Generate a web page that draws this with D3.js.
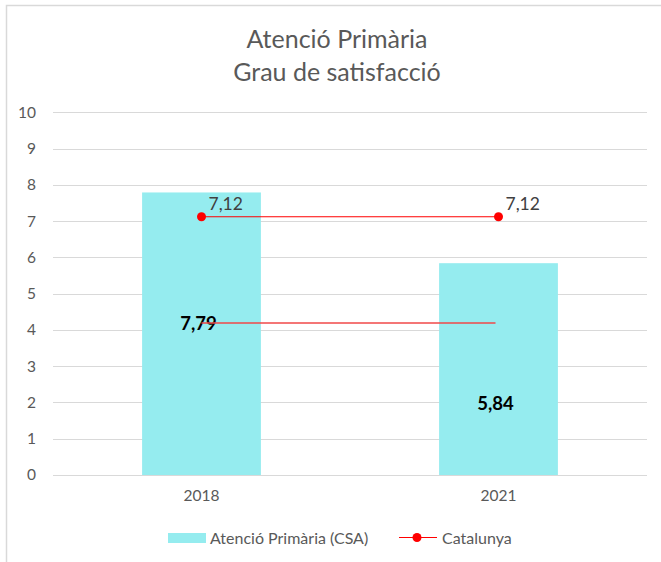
<!DOCTYPE html>
<html><head><meta charset="utf-8">
<script src="https://cdn.jsdelivr.net/npm/d3@7"></script>
<style>body{margin:0;background:#fff;}svg{display:block;font-family:Lato,"Open Sans",sans-serif;}</style>
</head><body><div id="chart"></div>
<script>
const categories = ["2018", "2021"];
const barValues = [7.79, 5.84];
const barLabels = ["7,79", "5,84"];
const barLabelPos = [4.18, 1.98];
const lineValues = [7.12, 7.12];
const lineLabels = ["7,12", "7,12"];
const refLineValue = 4.18;
const yTicks = [0,1,2,3,4,5,6,7,8,9,10];
const titleLines = ["Atenció Primària", "Grau de satisfacció"];
const legendNames = ["Atenció Primària (CSA)", "Catalunya"];

const W = 661, H = 562;
const barColor = "#95ECEF", lineColor = "#FF0000", textGray = "#595959";
const svg = d3.select("#chart").append("svg").attr("width", W).attr("height", H);
svg.append("rect").attr("width", W).attr("height", H).attr("fill", "#fff");
// outer border (left/top visible)
svg.append("path").attr("d", "M6.5,562 V5.5 H661").attr("fill","none").attr("stroke","#d9d9d9").attr("stroke-width",1.5);

const x = d3.scaleBand().domain(categories).range([53, 647]).paddingInner(0.6).paddingOuter(0.3);
const y = d3.scaleLinear().domain([0, 10]).range([475, 112.3]);
const cx = c => x(c) + x.bandwidth()/2;

// title
svg.append("g").selectAll("text").data(titleLines).join("text")
  .attr("x", 337).attr("y", (d,i) => 48 + i*33)
  .attr("text-anchor","middle").attr("font-size", 25).attr("fill", textGray).text(d => d);

// gridlines
svg.append("g").selectAll("line").data(yTicks).join("line")
  .attr("x1", 53).attr("x2", 647).attr("y1", d => Math.round(y(d))+0.5).attr("y2", d => Math.round(y(d))+0.5)
  .attr("stroke", "#d9d9d9").attr("stroke-width", 1);

// y axis labels
const yAxis = d3.axisLeft(y).tickValues(yTicks).tickSize(0).tickPadding(0).tickFormat(d3.format("d"));
const gy = svg.append("g").attr("transform","translate(36,0)").call(yAxis);
gy.select(".domain").remove();
gy.selectAll("text").attr("font-size", 15.5).attr("fill", textGray).attr("font-family","Lato,sans-serif");

// x axis labels
const xAxis = d3.axisBottom(x).tickSize(0).tickPadding(0);
const gx = svg.append("g").attr("transform","translate(0,490)").call(xAxis);
gx.select(".domain").remove();
gx.selectAll("text").attr("font-size", 15.5).attr("fill", textGray).attr("font-family","Lato,sans-serif");

// bars
svg.append("g").selectAll("rect").data(categories).join("rect")
  .attr("x", c => x(c)).attr("width", x.bandwidth())
  .attr("y", (c,i) => y(barValues[i])).attr("height", (c,i) => y(0) - y(barValues[i]))
  .attr("fill", barColor);

// bar labels
svg.append("g").selectAll("text").data(categories).join("text")
  .attr("x", c => cx(c)-3).attr("y", (c,i) => y(barLabelPos[i]) + 7)
  .attr("text-anchor","middle").attr("font-size", 18.5).attr("font-weight","bold").attr("fill","#000")
  .text((c,i) => barLabels[i]);

// stray reference line
svg.append("line").attr("x1", cx(categories[0])).attr("x2", cx(categories[1]) - 3)
  .attr("y1", Math.round(y(refLineValue))).attr("y2", Math.round(y(refLineValue)))
  .attr("stroke", "#F04848").attr("stroke-width", 1.5);

// Catalunya line
const line = d3.line().x((d,i) => cx(categories[i])).y(d => y(d));
svg.append("path").datum(lineValues).attr("d", line).attr("fill","none").attr("stroke", lineColor).attr("stroke-width", 1.2);
svg.append("g").selectAll("circle").data(lineValues).join("circle")
  .attr("cx", (d,i) => cx(categories[i])).attr("cy", d => y(d)).attr("r", 4.5).attr("fill", lineColor);
svg.append("g").selectAll("text").data(lineValues).join("text")
  .attr("x", (d,i) => cx(categories[i]) + 7).attr("y", d => y(d) - 7)
  .attr("font-size", 17.5).attr("fill", "#404040").text((d,i) => lineLabels[i]);

// legend
const lg = svg.append("g");
lg.append("rect").attr("x", 168).attr("y", 533).attr("width", 38).attr("height", 10).attr("fill", barColor);
lg.append("text").attr("x", 210).attr("y", 543.5).attr("font-size", 16).attr("fill", textGray).text(legendNames[0]);
lg.append("line").attr("x1", 399).attr("x2", 437).attr("y1", 537.5).attr("y2", 537.5).attr("stroke", lineColor).attr("stroke-width", 1);
lg.append("circle").attr("cx", 417).attr("cy", 537.5).attr("r", 4.5).attr("fill", lineColor);
lg.append("text").attr("x", 442).attr("y", 543.5).attr("font-size", 16).attr("fill", textGray).text(legendNames[1]);
</script></body></html>
